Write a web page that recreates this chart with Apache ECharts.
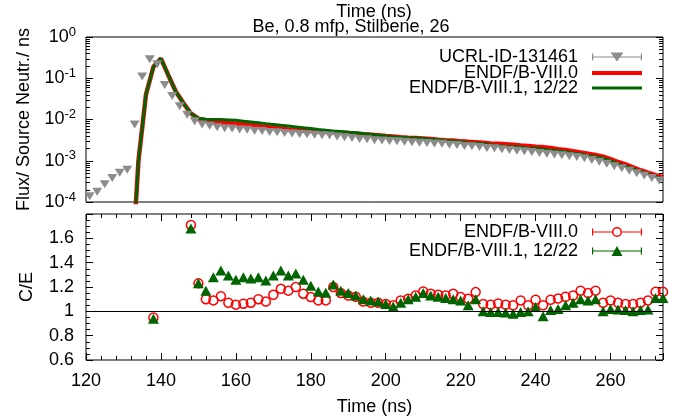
<!DOCTYPE html>
<html>
<head>
<meta charset="utf-8">
<script src="https://cdn.jsdelivr.net/npm/echarts@6/dist/echarts.min.js"></script>
<style>
html, body { margin: 0; padding: 0; background: #fff; }
#chart { width: 674px; height: 419px; }
</style>
</head>
<body>
<div id="chart"></div>
<script>
// measured flux (UCRL-ID-131461), odd time bins
var expTime = [121, 123, 125, 127, 129, 131, 133, 135, 137, 139, 141, 143, 145, 147, 149, 151, 153,
  155, 157, 159, 161, 163, 165, 167, 169, 171, 173, 175, 177, 179, 181, 183, 185, 187, 189, 191, 193,
  195, 197, 199, 201, 203, 205, 207, 209, 211, 213, 215, 217, 219, 221, 223, 225, 227, 229, 231, 233,
  235, 237, 239, 241, 243, 245, 247, 249, 251, 253, 255, 257, 259, 261, 263, 265, 267, 269, 271, 273];
var expFlux = [1.38e-4, 1.78e-4, 2.69e-4, 3.80e-4, 5.13e-4, 6.03e-4, 7.6e-3, 0.11, 0.29, 0.22, 0.069, 0.037, 0.021, 0.013, 9.1e-3, 7.6e-3, 7.1e-3,
  6.46e-3, 6.17e-3, 6.03e-3, 5.75e-3, 5.62e-3, 5.37e-3, 5.25e-3, 5.01e-3, 4.90e-3, 4.68e-3,
  4.57e-3, 4.47e-3, 4.37e-3, 4.27e-3, 4.17e-3, 4.07e-3, 3.89e-3, 3.72e-3, 3.55e-3, 3.39e-3,
  3.31e-3, 3.16e-3, 3.09e-3, 3.02e-3, 2.95e-3, 2.88e-3, 2.82e-3, 2.75e-3, 2.69e-3, 2.63e-3,
  2.57e-3, 2.45e-3, 2.40e-3, 2.29e-3, 2.24e-3, 2.14e-3, 2.04e-3, 2.00e-3, 1.91e-3, 1.82e-3,
  1.74e-3, 1.70e-3, 1.62e-3, 1.55e-3, 1.48e-3, 1.41e-3, 1.35e-3, 1.29e-3, 1.23e-3, 1.15e-3,
  1.05e-3, 9.5e-4, 8.5e-4, 7.4e-4, 6.6e-4, 5.75e-4, 5.0e-4, 4.4e-4, 3.8e-4, 3.3e-4];

// calculated flux, even time bins
var calcTime = [132, 134, 136, 138, 140, 142, 144, 146, 148, 150,
  152, 154, 156, 158, 160, 162, 164, 166, 168, 170, 172, 174, 176, 178, 180,
  182, 184, 186, 188, 190, 192, 194, 196, 198, 200, 202, 204, 206, 208, 210,
  212, 214, 216, 218, 220, 222, 224, 226, 228, 230, 232, 234, 236, 238, 240,
  242, 244, 246, 248, 250, 252, 254, 256, 258, 260, 262, 264, 266, 268, 270, 272, 274];
var fluxB80 = [1e-6, 1.0e-3, 0.040, 0.19, 0.30, 0.117, 0.047, 0.025, 0.014, 0.0105,
  9.55e-3, 8.91e-3, 8.51e-3, 8.32e-3, 7.94e-3, 7.59e-3, 7.24e-3, 6.92e-3, 6.61e-3, 6.31e-3,
  6.03e-3, 5.75e-3, 5.62e-3, 5.37e-3, 5.25e-3, 5.13e-3, 5.01e-3, 4.90e-3, 4.79e-3, 4.68e-3,
  4.57e-3, 4.37e-3, 4.27e-3, 4.17e-3, 3.98e-3, 3.89e-3, 3.72e-3, 3.63e-3, 3.55e-3, 3.47e-3,
  3.39e-3, 3.24e-3, 3.16e-3, 3.09e-3, 2.95e-3, 2.88e-3, 2.82e-3, 2.75e-3, 2.63e-3, 2.57e-3,
  2.51e-3, 2.45e-3, 2.34e-3, 2.29e-3, 2.19e-3, 2.14e-3, 2.04e-3, 1.91e-3, 1.82e-3, 1.70e-3,
  1.58e-3, 1.48e-3, 1.38e-3, 1.26e-3, 1.10e-3, 9.33e-4, 8.13e-4, 6.92e-4, 5.89e-4, 5.13e-4,
  4.47e-4, 3.98e-4];
var fluxB81 = [1e-6, 1.0e-3, 0.040, 0.19, 0.30, 0.117, 0.047, 0.025, 0.014, 0.0107,
  1.02e-2, 1.0e-2, 1.0e-2, 9.77e-3, 9.55e-3, 9.12e-3, 8.71e-3, 8.32e-3, 7.94e-3, 7.59e-3,
  7.24e-3, 6.92e-3, 6.61e-3, 6.31e-3, 6.03e-3, 5.75e-3, 5.50e-3, 5.25e-3, 5.13e-3, 4.90e-3,
  4.79e-3, 4.57e-3, 4.37e-3, 4.17e-3, 3.98e-3, 3.80e-3, 3.72e-3, 3.63e-3, 3.55e-3, 3.47e-3,
  3.31e-3, 3.24e-3, 3.09e-3, 3.02e-3, 2.88e-3, 2.75e-3, 2.69e-3, 2.57e-3, 2.45e-3, 2.34e-3,
  2.24e-3, 2.19e-3, 2.14e-3, 2.04e-3, 2.00e-3, 1.91e-3, 1.82e-3, 1.74e-3, 1.66e-3, 1.55e-3,
  1.45e-3, 1.35e-3, 1.26e-3, 1.15e-3, 1.00e-3, 8.51e-4, 7.41e-4, 6.46e-4, 5.50e-4, 4.79e-4,
  4.17e-4, 3.63e-4];

// C/E ratios
var ratioTime = [138, 148, 150, 152, 154, 156, 158,
  160, 162, 164, 166, 168, 170, 172, 174, 176, 178, 180, 182, 184, 186, 188,
  190, 192, 194, 196, 198, 200, 202, 204, 206, 208, 210, 212, 214, 216, 218,
  220, 222, 224, 226, 228, 230, 232, 234, 236, 238, 240, 242, 244, 246, 248,
  250, 252, 254, 256, 258, 260, 262, 264, 266, 268, 270, 272, 274];
var ratioB80 = [0.95, 1.71, 1.23, 1.10, 1.09, 1.125, 1.07,
  1.055, 1.063, 1.071, 1.10, 1.08, 1.136, 1.185, 1.17, 1.20, 1.145, 1.117, 1.09, 1.09, 1.20, 1.15,
  1.13, 1.12, 1.08, 1.07, 1.07, 1.06, 1.05, 1.09, 1.103, 1.13, 1.163, 1.144, 1.136, 1.13, 1.144,
  1.117, 1.103, 1.158, 1.06, 1.055, 1.065, 1.055, 1.05, 1.09, 1.05, 1.095, 1.05, 1.095, 1.105, 1.12,
  1.13, 1.17, 1.15, 1.17, 1.07, 1.09, 1.07, 1.06, 1.06, 1.07, 1.09, 1.16, 1.16];
var ratioB81 = [0.94, 1.68, 1.23, 1.17, 1.28, 1.335, 1.294,
  1.26, 1.28, 1.27, 1.28, 1.253, 1.294, 1.335, 1.294, 1.31, 1.26, 1.21, 1.163, 1.153, 1.22, 1.17,
  1.15, 1.13, 1.10, 1.09, 1.08, 1.06, 1.04, 1.07, 1.10, 1.12, 1.15, 1.13, 1.12, 1.11, 1.10,
  1.09, 1.05, 1.10, 1.00, 0.995, 0.995, 0.99, 0.98, 0.995, 1.00, 1.035, 0.96, 1.01, 1.02, 1.05,
  1.07, 1.10, 1.09, 1.10, 1.00, 1.02, 1.015, 1.01, 1.00, 1.01, 1.015, 1.11, 1.11];

// log minor ticks of the flux axis (2..9 in each decade)
var logMinorTicks = [2e-4, 3e-4, 4e-4, 5e-4, 6e-4, 7e-4, 8e-4, 9e-4,
  2e-3, 3e-3, 4e-3, 5e-3, 6e-3, 7e-3, 8e-3, 9e-3,
  2e-2, 3e-2, 4e-2, 5e-2, 6e-2, 7e-2, 8e-2, 9e-2,
  0.2, 0.3, 0.4, 0.5, 0.6, 0.7, 0.8, 0.9];

var FONT = '"Liberation Sans", Arial, Helvetica, sans-serif';
var RED = '#ff0000';
var GREEN = '#006400';
var GRAY = '#8c8c8c';

// legend samples: error bar with caps and the point symbol
var ICON_DOWN = 'path://M0,2.5L1.2,2.5L1.2,9.5L0,9.5Z M48.8,2.5L50,2.5L50,9.5L48.8,9.5Z M0,5.5L50,5.5L50,6.5L0,6.5Z M18.5,1.5L31.5,1.5L25,10.5Z';
var ICON_CIRCLE = 'path://M0,2.5L1.2,2.5L1.2,9.5L0,9.5Z M48.8,2.5L50,2.5L50,9.5L48.8,9.5Z M0,5.4L20.2,5.4L20.2,6.6L0,6.6Z M29.8,5.4L50,5.4L50,6.6L29.8,6.6Z ' +
  'M30,6A5,5 0 1,1 20,6A5,5 0 1,1 30,6Z M28.5,6A3.5,3.5 0 1,0 21.5,6A3.5,3.5 0 1,0 28.5,6Z';
var ICON_UP = 'path://M0,2.5L1.2,2.5L1.2,9.5L0,9.5Z M48.8,2.5L50,2.5L50,9.5L48.8,9.5Z M0,5.4L50,5.4L50,6.6L0,6.6Z M19.5,11L25,1L30.5,11Z';

function pairs(xs, ys) {
  return xs.map(function (x, i) { return [x, ys[i]]; });
}

var txt = { fontFamily: FONT, fontSize: 18, color: '#000' };
var tickStyle = { color: '#000', width: 1 };

function timeAxis(grid, pos, labels) {
  return {
    gridIndex: grid, type: 'value', position: pos, min: 120, max: 274, interval: 20,
    axisLine: { show: false },
    axisTick: { show: grid === 1, inside: true, length: 7, lineStyle: tickStyle },
    minorTick: { show: grid === 1, splitNumber: 5, length: 4, lineStyle: tickStyle },
    axisLabel: { show: labels, fontFamily: FONT, fontSize: 18, color: '#000', margin: 12, showMaxLabel: false },
    splitLine: { show: false }
  };
}

function fluxAxis(pos, labels) {
  return {
    gridIndex: 0, type: 'log', logBase: 10, position: pos, min: 1e-4, max: 1,
    axisLine: { show: false },
    axisTick: { inside: true, length: 7, lineStyle: tickStyle },
    axisLabel: {
      show: labels, margin: 10,
      formatter: function (v) { return '{b|10}{s|' + Math.round(Math.log10(v)) + '}'; },
      rich: {
        b: { fontFamily: FONT, fontSize: 18, color: '#000' },
        s: { fontFamily: FONT, fontSize: 13, color: '#000', padding: [0, 0, 10, 0] }
      }
    },
    splitLine: { show: false }
  };
}

function ratioAxis(pos, labels) {
  return {
    gridIndex: 1, type: 'value', position: pos, min: 0.6, max: 1.8, interval: 0.2,
    axisLine: { show: false },
    axisTick: { inside: true, length: 7, lineStyle: tickStyle },
    minorTick: { show: true, splitNumber: 4, length: 4, lineStyle: tickStyle },
    axisLabel: { show: labels, fontFamily: FONT, fontSize: 18, color: '#000', margin: 12, showMaxLabel: false },
    splitLine: { show: false }
  };
}

var xTop = timeAxis(0, 'bottom', false);
var xBottom = timeAxis(1, 'bottom', true);
xBottom.name = 'Time (ns)';
xBottom.nameLocation = 'middle';
xBottom.nameGap = 38;
xBottom.nameTextStyle = txt;

var yFlux = fluxAxis('left', true);
yFlux.name = 'Flux/ Source Neutr./ ns';
yFlux.nameLocation = 'middle';
yFlux.nameGap = 50;
yFlux.nameTextStyle = txt;

var yRatio = ratioAxis('left', true);
yRatio.name = 'C/E';
yRatio.nameLocation = 'middle';
yRatio.nameGap = 50;
yRatio.nameTextStyle = txt;

function legendFor(name, top, h, extra) {
  var item = { name: name };
  for (var k in extra) item[k] = extra[k];
  return {
    data: [item], top: top, right: 32, align: 'right', orient: 'horizontal',
    padding: 0, itemWidth: 50, itemHeight: h, selectedMode: false,
    formatter: function (n) { return n.replace(' C/E', ''); },
    textStyle: { fontFamily: FONT, fontSize: 18, color: '#000', padding: [0, 9, 0, 0] }
  };
}

// short tick marks at the log minor values, on both sides of the top panel
function renderLogTick(params, api) {
  var left = api.coord([120, api.value(1)]);
  var right = api.coord([274, api.value(1)]);
  var y = Math.round(left[1]) + 0.5;
  var st = { stroke: '#000', lineWidth: 1 };
  return {
    type: 'group',
    children: [
      { type: 'line', shape: { x1: left[0], y1: y, x2: left[0] + 4, y2: y }, style: st },
      { type: 'line', shape: { x1: right[0] - 4, y1: y, x2: right[0], y2: y }, style: st }
    ]
  };
}

var chart = echarts.init(document.getElementById('chart'));

chart.setOption({
  animation: false,
  backgroundColor: '#fff',
  title: [
    { text: 'Time (ns)', left: 374, top: 3, textAlign: 'center', textVerticalAlign: 'top', padding: 0,
      textStyle: { fontFamily: FONT, fontSize: 18, fontWeight: 'normal', color: '#000' } },
    { text: 'Be, 0.8 mfp, Stilbene, 26', left: 351, top: 18, textAlign: 'center', textVerticalAlign: 'top', padding: 0,
      textStyle: { fontFamily: FONT, fontSize: 18, fontWeight: 'normal', color: '#000' } }
  ],
  grid: [
    { left: 86, top: 37, width: 577, height: 165, show: true, borderColor: '#000', borderWidth: 1, backgroundColor: 'transparent' },
    { left: 86, top: 214, width: 577, height: 146, show: true, borderColor: '#000', borderWidth: 1, backgroundColor: 'transparent' }
  ],
  xAxis: [xTop, xBottom, timeAxis(1, 'top', false)],
  yAxis: [yFlux, fluxAxis('right', false), yRatio, ratioAxis('right', false)],
  legend: [
    legendFor('UCRL-ID-131461', 48, 12, { icon: ICON_DOWN, itemStyle: { color: GRAY, borderWidth: 0 } }),
    legendFor('ENDF/B-VIII.0', 64, 4, { icon: 'rect' }),
    legendFor('ENDF/B-VIII.1, 12/22', 79, 3, { icon: 'rect' }),
    legendFor('ENDF/B-VIII.0 C/E', 223, 12, { icon: ICON_CIRCLE, itemStyle: { color: RED, borderWidth: 0 } }),
    legendFor('ENDF/B-VIII.1, 12/22 C/E', 242, 12, { icon: ICON_UP, itemStyle: { color: GREEN, borderWidth: 0 } })
  ],
  series: [
    {
      name: 'log minor ticks', type: 'custom', xAxisIndex: 0, yAxisIndex: 0, silent: true,
      data: logMinorTicks.map(function (v) { return [120, v]; }),
      renderItem: renderLogTick, clip: false
    },
    {
      name: 'UCRL-ID-131461', type: 'line', xAxisIndex: 0, yAxisIndex: 0,
      data: pairs(expTime, expFlux),
      symbol: 'triangle', symbolRotate: 180, symbolSize: [10, 8],
      itemStyle: { color: GRAY },
      lineStyle: { color: GRAY, width: 1, opacity: 0 }
    },
    {
      name: 'ENDF/B-VIII.0', type: 'line', xAxisIndex: 0, yAxisIndex: 0,
      data: pairs(calcTime, fluxB80), symbol: 'none',
      itemStyle: { color: RED },
      lineStyle: { color: RED, width: 4.5 }
    },
    {
      name: 'ENDF/B-VIII.1, 12/22', type: 'line', xAxisIndex: 0, yAxisIndex: 0,
      data: pairs(calcTime, fluxB81), symbol: 'none',
      itemStyle: { color: GREEN },
      lineStyle: { color: GREEN, width: 3 }
    },
    {
      name: 'ENDF/B-VIII.0 C/E', type: 'line', xAxisIndex: 1, yAxisIndex: 2,
      data: pairs(ratioTime, ratioB80),
      symbol: 'circle', symbolSize: 9,
      itemStyle: { color: 'transparent', borderColor: RED, borderWidth: 1.5 },
      lineStyle: { color: RED, width: 1, opacity: 0 },
      markLine: {
        silent: true, symbol: 'none', label: { show: false },
        lineStyle: { color: '#000', width: 1, type: 'solid' },
        data: [{ yAxis: 1 }]
      }
    },
    {
      name: 'ENDF/B-VIII.1, 12/22 C/E', type: 'line', xAxisIndex: 1, yAxisIndex: 2,
      data: pairs(ratioTime, ratioB81),
      symbol: 'triangle', symbolSize: [11, 10],
      itemStyle: { color: GREEN },
      lineStyle: { color: GREEN, width: 1, opacity: 0 }
    }
  ]
});
</script>
</body>
</html>
